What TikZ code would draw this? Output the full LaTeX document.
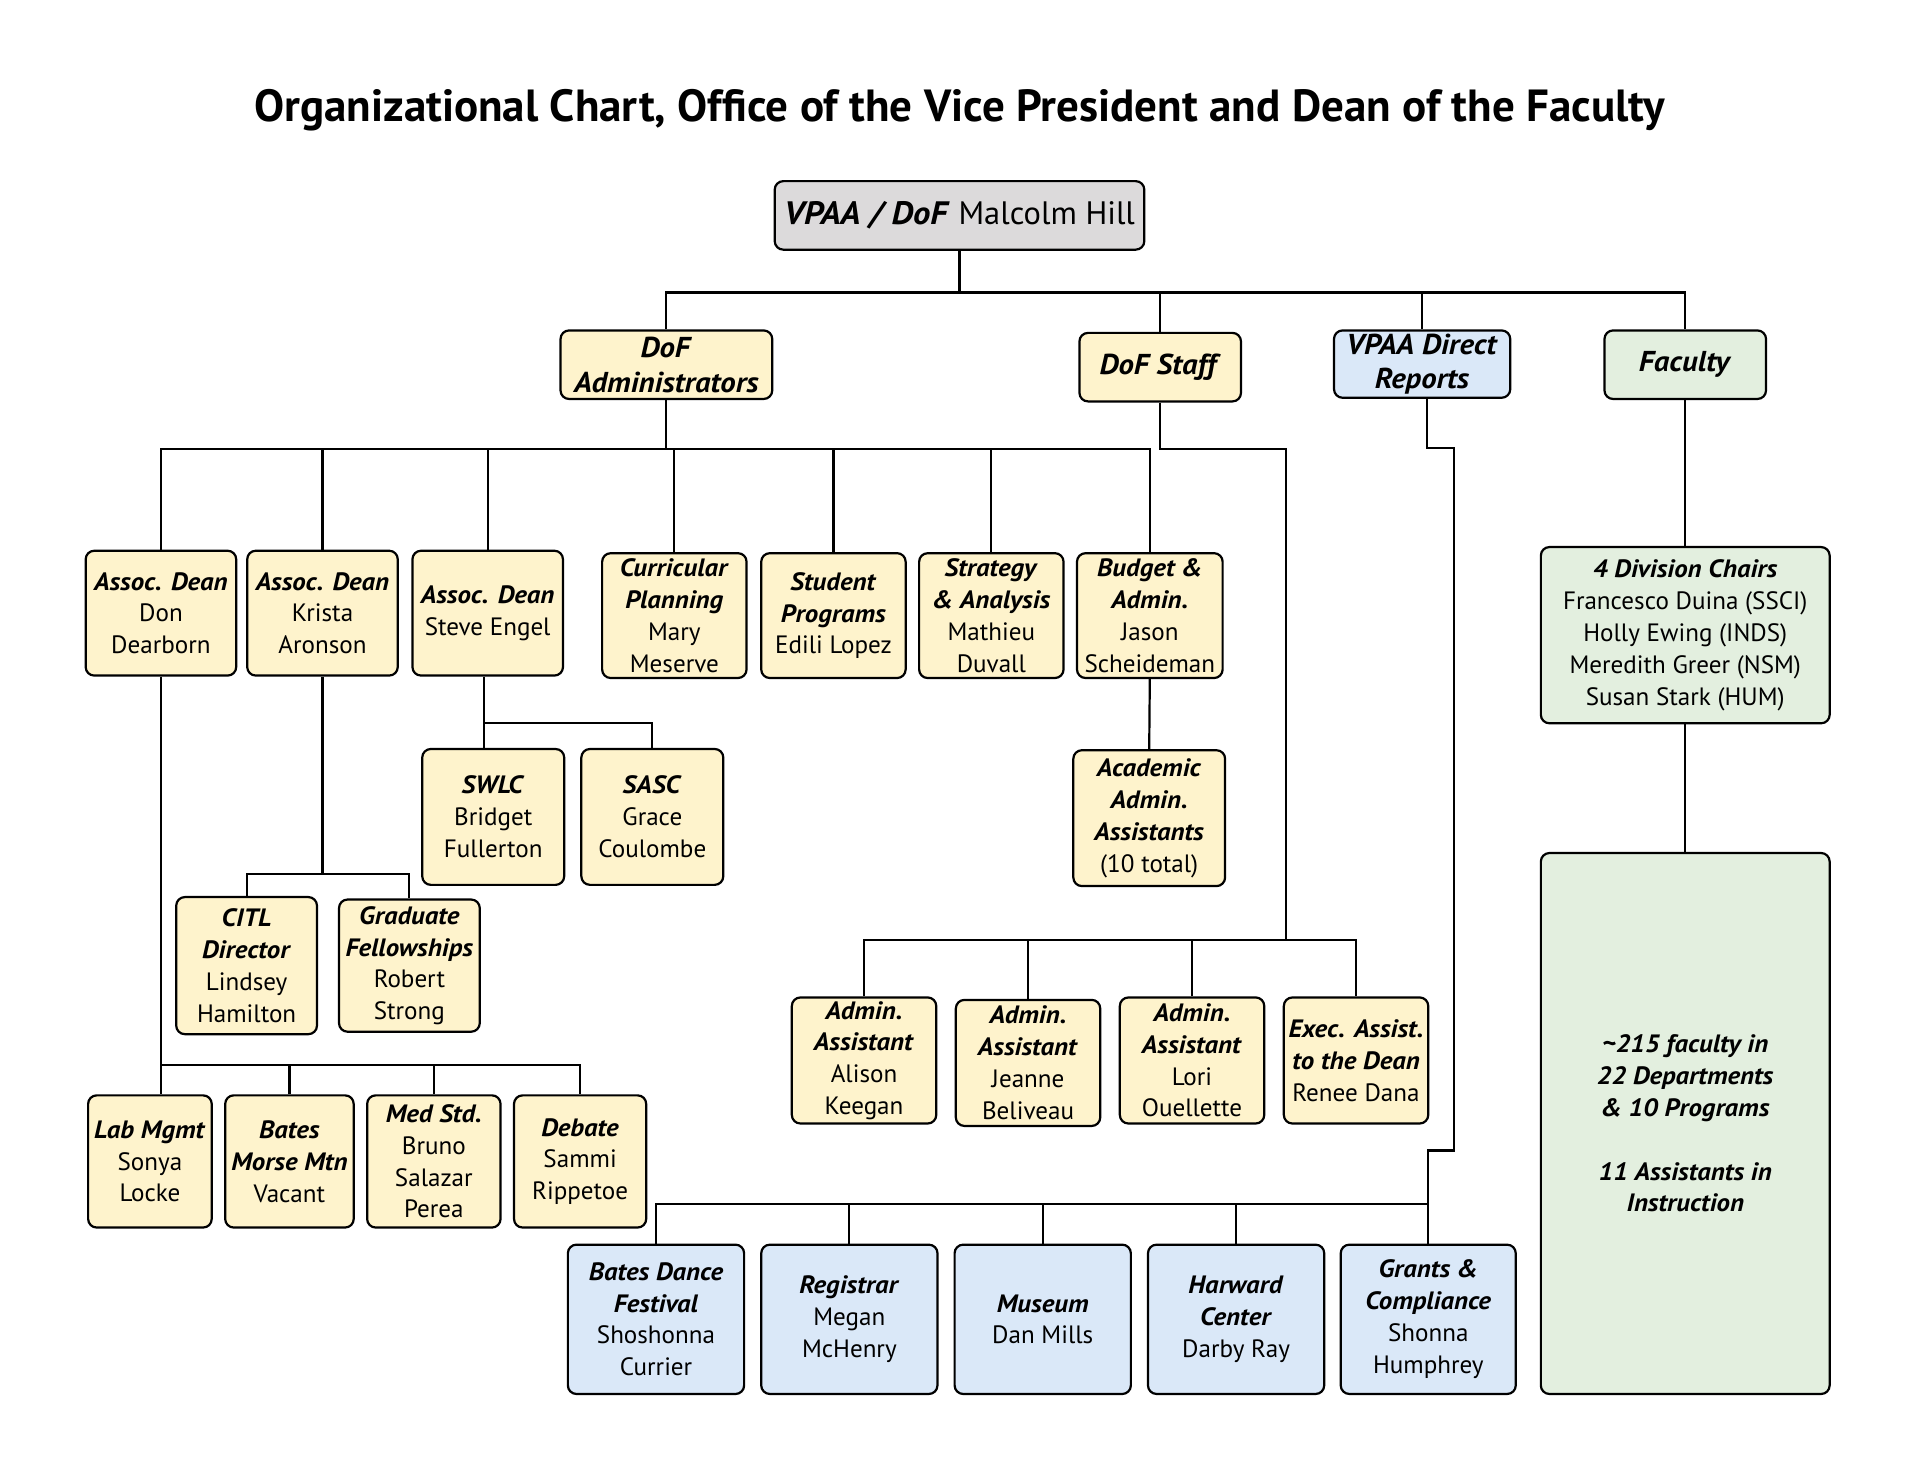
\documentclass[tikz,border=0pt]{standalone}
\usepackage{fontspec}
\setmainfont{PT Sans}[BoldItalicFeatures={FakeStretch=1.07}]
\definecolor{yel}{RGB}{254,243,204}
\definecolor{blu}{RGB}{218,232,248}
\definecolor{grn}{RGB}{227,239,223}
\definecolor{gry}{RGB}{220,218,219}
\newcommand\hd[1]{\textbf{\textit{#1}}}
\begin{document}
\begin{tikzpicture}[x=1pt,y=-1pt,
  bx/.style={draw=black,line width=1.8pt,rounded corners=7pt,align=center,inner sep=0pt,
     font=\fontsize{20.5}{26}\selectfont},
  yb/.style={bx,fill=yel},
  bb/.style={bx,fill=blu},
  gb/.style={bx,fill=grn},
  sz/.style 2 args={minimum width=#1pt,minimum height=#2pt},
  lvl/.style={font=\fontsize{23.5}{28.5}\selectfont},
  ln/.style={line width=1.8pt}]
\useasboundingbox (0,0) rectangle (1568,1212);
\node[font=\fontsize{36.8}{42}\selectfont\bfseries] (title) at (784,90) {Organizational Chart, Office of the Vice President and Dean of the Faculty};
% top
\node[bx,fill=gry,sz={302}{56},font=\fontsize{26.5}{32}\selectfont] (vpaa) at (784,176) {\hd{VPAA / DoF} Malcolm Hill};
\node[yb,lvl,sz={173}{56}] (dofa) at (544.5,298) {\hd{DoF}\\\hd{Administrators}};
\node[yb,lvl,sz={132}{56}] (dofs) at (948,300) {\hd{DoF Staff}};
\node[bb,lvl,sz={144}{55}] (vdr) at (1162,297.5) {\hd{VPAA Direct}\\\hd{Reports}};
\node[gb,lvl,sz={132}{56}] (fac) at (1377,298) {\hd{Faculty}};
% row 3
\node[yb,sz={123}{102}] (ad1) at (131.5,501) {\hd{Assoc. Dean}\\Don\\Dearborn};
\node[yb,sz={123}{102}] (ad2) at (263.5,501) {\hd{Assoc. Dean}\\Krista\\Aronson};
\node[yb,sz={123}{102}] (ad3) at (398.5,501) {\hd{Assoc. Dean}\\Steve Engel};
\node[yb,sz={118}{102}] (cp) at (551,503) {\hd{Curricular}\\\hd{Planning}\\Mary\\Meserve};
\node[yb,sz={118}{102}] (sp) at (681,503) {\hd{Student}\\\hd{Programs}\\Edili Lopez};
\node[yb,sz={118}{102}] (sa) at (810,503) {\hd{Strategy}\\\hd{\& Analysis}\\Mathieu\\Duvall};
\node[yb,sz={119}{102}] (ba) at (939.5,503) {\hd{Budget \&}\\\hd{Admin.}\\Jason\\Scheideman};
% row 4
\node[yb,sz={116}{111}] (swlc) at (403,667.5) {\hd{SWLC}\\Bridget\\Fullerton};
\node[yb,sz={116}{111}] (sasc) at (533,667.5) {\hd{SASC}\\Grace\\Coulombe};
\node[yb,sz={124}{111}] (aaa) at (939,668.5) {\hd{Academic}\\\hd{Admin.}\\\hd{Assistants}\\(10 total)};
\node[yb,sz={115}{112}] (citl) at (201.5,789) {\hd{CITL}\\\hd{Director}\\Lindsey\\Hamilton};
\node[yb,sz={115}{108}] (gf) at (334.5,789) {\hd{Graduate}\\\hd{Fellowships}\\Robert\\Strong};
\node[yb,sz={118}{103}] (aa1) at (706,866.5) {\hd{Admin.}\\\hd{Assistant}\\Alison\\Keegan};
\node[yb,sz={118}{103}] (aa2) at (840,868.5) {\hd{Admin.}\\\hd{Assistant}\\Jeanne\\Beliveau};
\node[yb,sz={118}{103}] (aa3) at (974,866.5) {\hd{Admin.}\\\hd{Assistant}\\Lori\\Ouellette};
\node[yb,sz={118}{103}] (ea) at (1108,866.5) {\hd{Exec. Assist.}\\\hd{to the Dean}\\Renee Dana};
% row 5
\node[yb,sz={101}{108}] (lab) at (122.5,949) {\hd{Lab Mgmt}\\Sonya\\Locke};
\node[yb,sz={105}{108}] (bmm) at (236.5,949) {\hd{Bates}\\\hd{Morse Mtn}\\Vacant};
\node[yb,sz={109}{108}] (med) at (354.5,949) {\hd{Med Std.}\\Bruno\\Salazar\\Perea};
\node[yb,sz={108}{108}] (deb) at (474,949) {\hd{Debate}\\Sammi\\Rippetoe};
% blue row
\node[bb,sz={144}{122}] (bdf) at (536,1078) {\hd{Bates Dance}\\\hd{Festival}\\Shoshonna\\Currier};
\node[bb,sz={144}{122}] (reg) at (694,1078) {\hd{Registrar}\\Megan\\McHenry};
\node[bb,sz={144}{122}] (mus) at (852,1078) {\hd{Museum}\\Dan Mills};
\node[bb,sz={144}{122}] (har) at (1010,1078) {\hd{Harward}\\\hd{Center}\\Darby Ray};
\node[bb,sz={143}{122}] (gra) at (1167,1078) {\hd{Grants \&}\\\hd{Compliance}\\Shonna\\Humphrey};
% faculty
\node[gb,sz={236}{144}] (div) at (1377,519) {\hd{4 Division Chairs}\\Francesco Duina (SSCI)\\Holly Ewing (INDS)\\Meredith Greer (NSM)\\Susan Stark (HUM)};
\node[gb,sz={236}{442}] (fb) at (1377,918) {\hd{\textasciitilde215 faculty in}\\\hd{22 Departments}\\\hd{\& 10 Programs}\\[26pt]\hd{11 Assistants in}\\\hd{Instruction}};
% bus levels
\coordinate (y1) at (0,239);
\coordinate (y2) at (0,367);
\coordinate (y3) at (0,591);
\coordinate (y4) at (0,714);
\coordinate (y5) at (0,870);
\coordinate (y6) at (0,768);
\coordinate (y7) at (0,984);
\coordinate (sx) at (1051,367);
\coordinate (vx1) at (1188,366);
\coordinate (vx2) at (1188,940);
% connectors level 1
\draw[ln] (vpaa.south) -- (vpaa.south |- y1);
\draw[ln] (dofa.north) -- (dofa.north |- y1) -- (fac.north |- y1) -- (fac.north);
\draw[ln] (dofs.north) -- (dofs.north |- y1);
\draw[ln] (vdr.north) -- (vdr.north |- y1);
% DoF administrators
\draw[ln] (dofa.south) -- (dofa.south |- y2);
\draw[ln] (ad1.north) -- (ad1.north |- y2) -- (ba.north |- y2) -- (ba.north);
\foreach \n in {ad2,ad3,cp,sp,sa}{\draw[ln] (\n.north) -- (\n.north |- y2);}
% Steve Engel
\draw[ln] (ad3.south) ++(-3,0) coordinate (a3s) -- (a3s |- swlc.north);
\draw[ln] (a3s |- y3) -- (sasc.north |- y3) -- (sasc.north);
% Krista
\draw[ln] (ad2.south) -- (ad2.south |- y4);
\draw[ln] (citl.north) -- (citl.north |- y4) -- (gf.north |- y4) -- (gf.north);
% Don
\draw[ln] (ad1.south) -- (ad1.south |- lab.north);
\draw[ln] (ad1.south |- y5) -- (deb.north |- y5) -- (deb.north);
\draw[ln] (bmm.north) -- (bmm.north |- y5);
\draw[ln] (med.north) -- (med.north |- y5);
% Budget
\draw[ln] (ba.south) -- (aaa.north);
% DoF Staff
\draw[ln] (dofs.south) -- (dofs.south |- y2) -- (sx) -- (sx |- y6);
\draw[ln] (aa1.north) -- (aa1.north |- y6) -- (ea.north |- y6) -- (ea.north);
\draw[ln] (aa2.north) -- (aa2.north |- y6);
\draw[ln] (aa3.north) -- (aa3.north |- y6);
% VPAA direct
\draw[ln] (vdr.south) ++(4,0) coordinate (vs) -- (vs |- vx1) -- (vx1) -- (vx2) -- (gra.north |- vx2) -- (gra.north);
\draw[ln] (bdf.north) -- (bdf.north |- y7) -- (gra.north |- y7);
\foreach \n in {reg,mus,har}{\draw[ln] (\n.north) -- (\n.north |- y7);}
% Faculty
\draw[ln] (fac.south) -- (div.north);
\draw[ln] (div.south) -- (fb.north);
\end{tikzpicture}
\end{document}
